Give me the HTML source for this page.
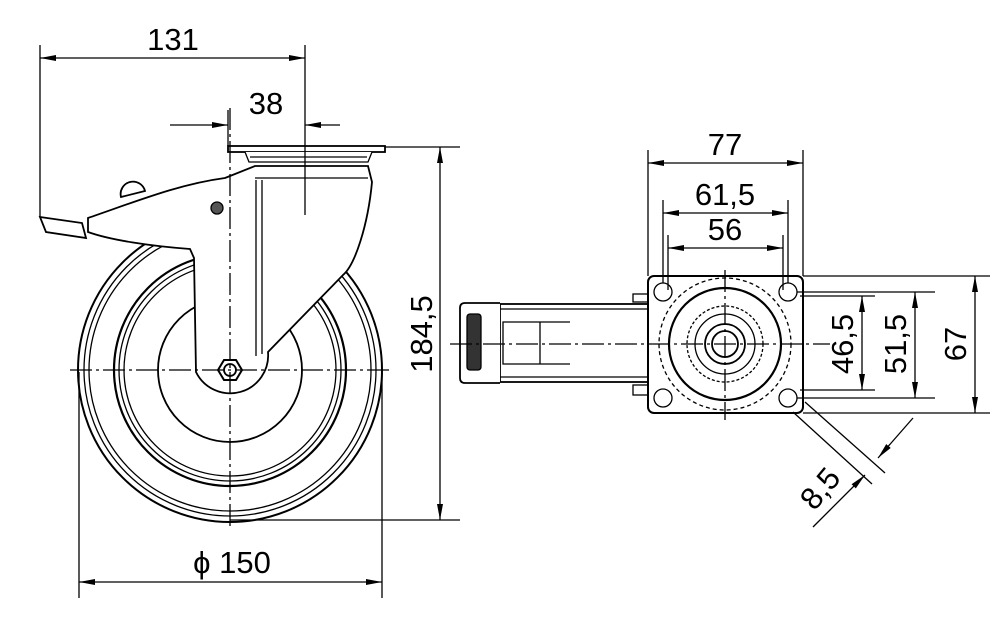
<!DOCTYPE html>
<html><head><meta charset="utf-8"><style>html,body{margin:0;padding:0;background:#fff}svg{display:block}</style></head><body>
<svg width="1000" height="618" viewBox="0 0 1000 618" xmlns="http://www.w3.org/2000/svg" font-family="Liberation Sans, sans-serif">
<defs>
<marker id="a" markerWidth="16" markerHeight="8" refX="16" refY="4" orient="auto" markerUnits="userSpaceOnUse"><path d="M0,1 L16,4 L0,7 Z" fill="#000"/></marker>
<marker id="b" markerWidth="16" markerHeight="8" refX="0" refY="4" orient="auto" markerUnits="userSpaceOnUse"><path d="M16,1 L0,4 L16,7 Z" fill="#000"/></marker>
</defs>
<g stroke="#000" fill="none" stroke-width="1.3">
<circle cx="230" cy="370" r="152" stroke-width="2"/>
<circle cx="230" cy="370" r="146"/>
<circle cx="230" cy="370" r="141"/>
<circle cx="230" cy="370" r="116" stroke-width="2.2"/>
<circle cx="230" cy="370" r="111"/>
<circle cx="230" cy="370" r="106"/>
<circle cx="230" cy="370" r="72" stroke-width="1.8"/>
<rect x="228" y="146" width="157" height="6" fill="#fff" stroke-width="1.8"/>
<path d="M245,152 L249,162 L368,162 L372,152" fill="#fff"/>
<line x1="250" y1="157" x2="367" y2="157"/>
<path d="M121,197 A12,12 0 0 1 145,191 Z" fill="#fff" stroke-width="1.8"/>
<path d="M225,178 L255,166 L368,166 L372,182 C368,225 355,265 343,275 L268,352 A38,38 0 0 1 196,372 L194,258 L190,249 C150,246 110,240 88,232 L88,218 C140,200 180,184 225,178 Z" fill="#fff" stroke-width="1.8"/>
<line x1="256" y1="180" x2="256" y2="356"/><line x1="262" y1="180" x2="262" y2="354"/>
<line x1="255" y1="178" x2="368" y2="178"/>
<path d="M40,217 L82,223 L86,238 L46,232 Z" fill="#fff" stroke-width="1.8"/>
<circle cx="217" cy="208" r="6" fill="#555"/>
<path d="M218,370 L224,360 L236,360 L242,370 L236,380 L224,380 Z" fill="#fff" stroke-width="2"/>
<circle cx="230" cy="370" r="6" stroke-width="1.8"/>
<line x1="230" y1="108" x2="230" y2="530" stroke-dasharray="22,4,3,4"/>
<line x1="70" y1="370" x2="392" y2="370" stroke-dasharray="22,4,3,4"/>
<line x1="40" y1="45" x2="40" y2="217"/><line x1="305" y1="45" x2="305" y2="215"/>
<line x1="40" y1="58" x2="305" y2="58" marker-start="url(#b)" marker-end="url(#a)"/>
<line x1="228" y1="110" x2="228" y2="146"/>
<line x1="170" y1="125" x2="228" y2="125" marker-end="url(#a)"/>
<line x1="340" y1="125" x2="305" y2="125" marker-end="url(#a)"/>
<line x1="385" y1="147" x2="460" y2="147"/><line x1="230" y1="520" x2="460" y2="520"/>
<line x1="440" y1="147" x2="440" y2="520" marker-start="url(#b)" marker-end="url(#a)"/>
<line x1="79" y1="372" x2="79" y2="598"/><line x1="382" y1="372" x2="382" y2="598"/>
<line x1="79" y1="582" x2="382" y2="582" marker-start="url(#b)" marker-end="url(#a)"/>
<rect x="500" y="304" width="148" height="78" fill="#fff" stroke-width="1.8"/>
<line x1="500" y1="309" x2="648" y2="309"/><line x1="500" y1="377" x2="648" y2="377"/>
<path d="M500,303 L465,303 Q460,303 460,308 L460,378 Q460,383 465,383 L500,383" fill="#fff" stroke-width="1.8"/>
<rect x="467" y="314" width="14" height="56" rx="3" fill="#333"/>
<path d="M570,322 L503,322 L503,364 L570,364 M540,322 L540,364"/>
<rect x="633" y="294" width="15" height="8"/><rect x="633" y="385" width="15" height="10"/>
<rect x="648" y="276" width="155" height="137" rx="6" fill="#fff" stroke-width="2"/>
<circle cx="663" cy="292" r="9"/><circle cx="788" cy="292" r="9"/><circle cx="663" cy="398" r="9"/><circle cx="788" cy="398" r="9"/>
<circle cx="725" cy="344" r="66" stroke-dasharray="4,3"/>
<circle cx="725" cy="344" r="56" stroke-width="2.2"/>
<circle cx="725" cy="344" r="38" stroke-dasharray="3,2"/>
<circle cx="725" cy="344" r="30"/>
<circle cx="725" cy="344" r="20" stroke-width="1.8"/>
<circle cx="725" cy="344" r="13" stroke-width="1.8"/>
<line x1="450" y1="344" x2="830" y2="344" stroke-dasharray="22,4,3,4"/>
<line x1="725" y1="270" x2="725" y2="420" stroke-dasharray="22,4,3,4"/>
<line x1="648" y1="150" x2="648" y2="276"/><line x1="803" y1="150" x2="803" y2="276"/>
<line x1="648" y1="163" x2="803" y2="163" marker-start="url(#b)" marker-end="url(#a)"/>
<line x1="663" y1="200" x2="663" y2="283"/><line x1="788" y1="200" x2="788" y2="283"/>
<line x1="663" y1="213" x2="788" y2="213" marker-start="url(#b)" marker-end="url(#a)"/>
<line x1="668" y1="235" x2="668" y2="290"/><line x1="783" y1="235" x2="783" y2="290"/>
<line x1="668" y1="248" x2="783" y2="248" marker-start="url(#b)" marker-end="url(#a)"/>
<line x1="803" y1="276" x2="990" y2="276"/><line x1="803" y1="413" x2="990" y2="413"/>
<line x1="975" y1="276" x2="975" y2="413" marker-start="url(#b)" marker-end="url(#a)"/>
<line x1="797" y1="292" x2="935" y2="292"/><line x1="797" y1="398" x2="935" y2="398"/>
<line x1="915" y1="292" x2="915" y2="398" marker-start="url(#b)" marker-end="url(#a)"/>
<line x1="800" y1="296" x2="875" y2="296"/><line x1="800" y1="390" x2="875" y2="390"/>
<line x1="862" y1="296" x2="862" y2="390" marker-start="url(#b)" marker-end="url(#a)"/>
<line x1="793" y1="412" x2="872" y2="484"/><line x1="805" y1="402" x2="885" y2="473"/>
<line x1="913" y1="418" x2="878" y2="458" marker-end="url(#a)"/>
<line x1="813" y1="527" x2="865" y2="475" marker-end="url(#a)"/>
</g>
<g font-size="31" fill="#000" text-anchor="middle">
<text x="173" y="50">131</text>
<text x="266" y="114">38</text>
<text x="424" y="334" transform="rotate(-90 424 334)" dominant-baseline="middle">184,5</text>
<text x="232" y="573">ϕ 150</text>
<text x="725" y="155">77</text>
<text x="725" y="205">61,5</text>
<text x="725" y="240">56</text>
<text x="845" y="344" transform="rotate(-90 845 344)" dominant-baseline="middle">46,5</text>
<text x="898" y="344" transform="rotate(-90 898 344)" dominant-baseline="middle">51,5</text>
<text x="958" y="344" transform="rotate(-90 958 344)" dominant-baseline="middle">67</text>
<text x="822" y="490" transform="rotate(-50 822 490)" dominant-baseline="middle">8,5</text>
</g>
</svg>
</body></html>
